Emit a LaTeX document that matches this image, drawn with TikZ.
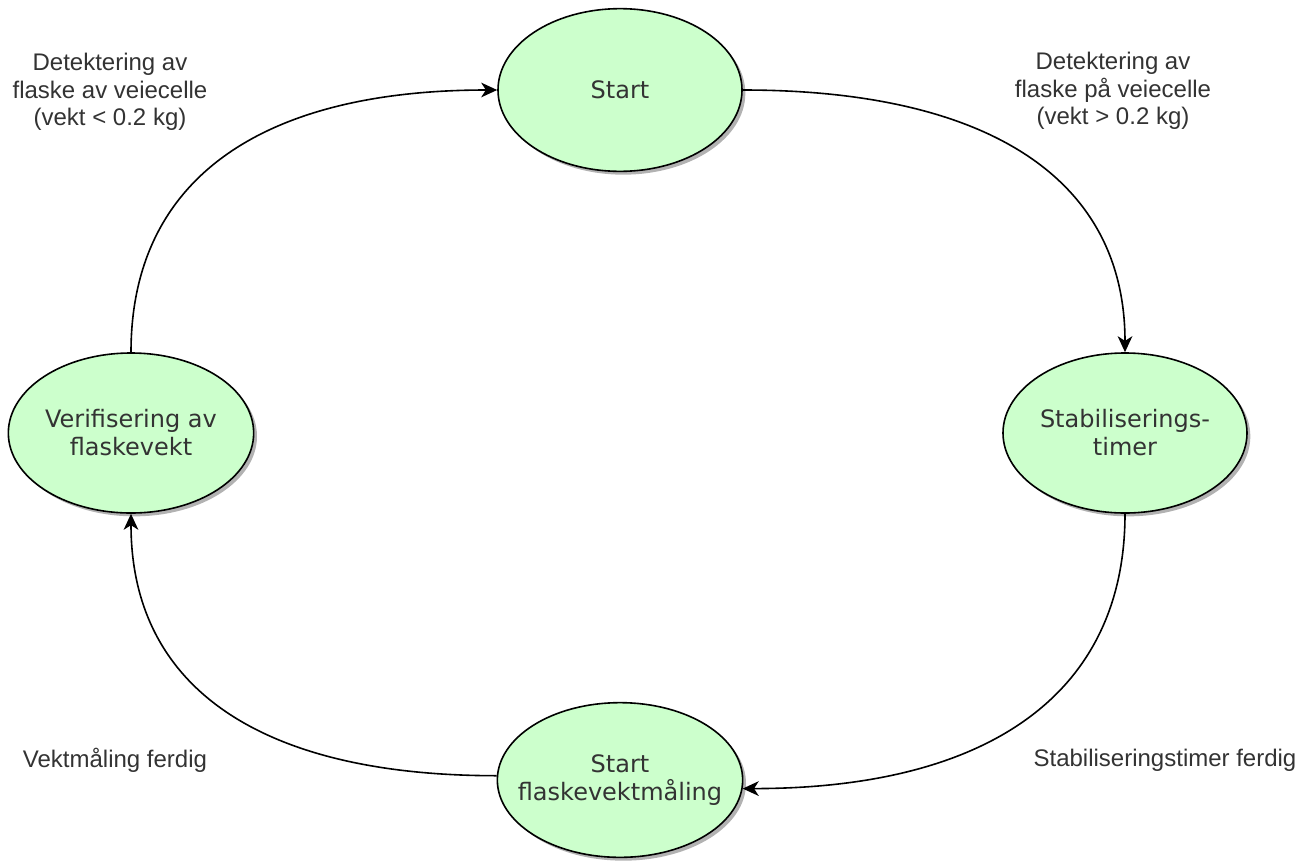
\documentclass[tikz,border=0pt]{standalone}
\usepackage{fontspec}
\setmainfont{Liberation Sans}
\newfontfamily\statefont{DejaVu Sans}
\usetikzlibrary{shapes.geometric,arrows.meta,shadows}
\definecolor{statefill}{HTML}{CCFFCC}
\definecolor{txt}{HTML}{333333}
\begin{document}
\begin{tikzpicture}[x=0.75pt,y=-0.75pt,
  state/.style={ellipse, draw=black, line width=1.2pt, fill=statefill, inner sep=-15pt,
    align=center, font=\statefont\fontsize{18}{21}\selectfont, text=txt,
    drop shadow={shadow xshift=2.5pt, shadow yshift=-2.5pt, opacity=0.3, fill=black}},
  lbl/.style={align=center, font=\fontsize{18}{20.5}\selectfont, text=txt, inner sep=0pt},
  conn/.style={line width=1.2pt, -{Stealth[length=12pt,width=11pt,inset=3.5pt]}},
]
\useasboundingbox[fill=white] (0,0) rectangle (1307,861);

\node[state, minimum width=183pt, minimum height=122pt] (start) at (620,90) {Start};
\node[state, minimum width=183pt, minimum height=120pt] (stab) at (1125,433) {Stabiliserings-\\timer};
\node[state, minimum width=184pt, minimum height=120pt] (verif) at (131,433) {Verifisering av\\flaskevekt};
\node[state, minimum width=184pt, minimum height=116pt] (sf) at (620,780) {Start\\flaskevektmåling};

\node[lbl] (l1) at (1113,91) {Detektering av\\flaske på veiecelle\\(vekt > 0.2 kg)};
\node[lbl] (l2) at (110,92) {Detektering av\\flaske av veiecelle\\(vekt < 0.2 kg)};
\node[lbl] (l3) at (1165,760) {Stabiliseringstimer ferdig};
\node[lbl] (l4) at (115,760) {Vektmåling ferdig};

\draw[conn] (start.east) .. controls +(249,0) and +(0,-171) .. (stab.north);
\draw[conn] (stab.south) .. controls +(0,179) and +(247,0) .. (sf.-4);
\draw[conn] (sf.178) .. controls +(-239,0) and +(0,172) .. (verif.south);
\draw[conn] (verif.north) .. controls +(0,-171) and +(-239,0) .. (start.west);
\end{tikzpicture}
\end{document}
